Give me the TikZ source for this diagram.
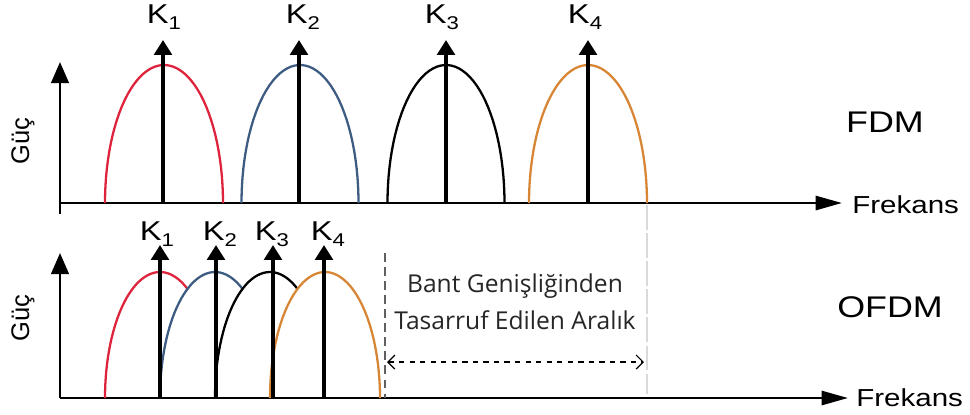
\documentclass[tikz,border=0pt]{standalone}
\usepackage{fontspec}
\setmainfont{Liberation Sans}[FakeStretch=1.2]
\newfontfamily\duzfont{Liberation Sans}
\newfontfamily\notfont{Open Sans}
\usetikzlibrary{arrows.meta, positioning}
\definecolor{kirmizi}{RGB}{222,36,60}
\definecolor{mavi}{RGB}{62,92,130}
\definecolor{turuncu}{RGB}{214,134,52}
\newcommand{\Kalt}[1]{K\raisebox{-0.4ex}{\fontsize{10.5}{10.5}\selectfont #1}}

\begin{document}
\begin{tikzpicture}[x=0.02cm, y=-0.02cm,
  eksenY/.style={line width=1.5pt, -{Triangle[width=10pt,length=12pt]}},
  eksenX/.style={line width=1.5pt, -{Triangle[width=8pt,length=15pt]}},
  tasiyici/.style={line width=2.3pt, -{Triangle[width=10pt,length=8.5pt]}},
  lob/.style={line width=1.3pt},
  etiket/.style={font=\fontsize{15.5}{17}\selectfont, inner sep=0pt},
  guc/.style={font=\duzfont\fontsize{14.5}{16}\selectfont, inner sep=0pt, rotate=90}]
  \useasboundingbox (0,0) rectangle (970,414);
  % Ust eksenler (FDM)
  \coordinate (ustYa) at (60,214);
  \coordinate (ustYu) at (60,62);
  \coordinate (ustXa) at (60,203);
  \coordinate (ustXu) at (842,203);
  \draw[eksenY] (ustYa) -- (ustYu);
  \draw[eksenX] (ustXa) -- (ustXu);
  \node[etiket, font=\fontsize{14}{16}\selectfont, anchor=west] (frek1) at (852,205) {Frekans};
  \node[guc] (guc1) at (23,141) {Güç};
  \node[etiket, font=\fontsize{17}{19}\selectfont] (fdm) at (885,122) {FDM};
  % FDM loblari
  \draw[lob, kirmizi] plot[domain=180:0, samples=50] ({164+59*cos(\x)}, {203-138*sin(\x)});
  \draw[lob, mavi] plot[domain=180:0, samples=50] ({300+58.5*cos(\x)}, {203-138*sin(\x)});
  \draw[lob, black] plot[domain=180:0, samples=50] ({446+58.5*cos(\x)}, {203-138*sin(\x)});
  \draw[lob, turuncu] plot[domain=180:0, samples=50] ({588+59*cos(\x)}, {203-138*sin(\x)});
  % FDM tasiyicilari
  \coordinate (f1a) at (163,203); \coordinate (f1u) at (163,40);
  \coordinate (f2a) at (299,203); \coordinate (f2u) at (299,40);
  \coordinate (f3a) at (446,203); \coordinate (f3u) at (446,40);
  \coordinate (f4a) at (588,203); \coordinate (f4u) at (588,40);
  \draw[tasiyici] (f1a) -- (f1u);
  \draw[tasiyici] (f2a) -- (f2u);
  \draw[tasiyici] (f3a) -- (f3u);
  \draw[tasiyici] (f4a) -- (f4u);
  \node[etiket] (fk1) at (164,17) {\Kalt{1}};
  \node[etiket] (fk2) at (303,17) {\Kalt{2}};
  \node[etiket] (fk3) at (442,17) {\Kalt{3}};
  \node[etiket] (fk4) at (585,17) {\Kalt{4}};
  % Alt eksenler (OFDM)
  \coordinate (altYa) at (60,398);
  \coordinate (altYu) at (60,253);
  \coordinate (altXu) at (848,398);
  \draw[eksenY] (altYa) -- (altYu);
  \draw[eksenX] (altYa) -- (altXu);
  \node[etiket, font=\fontsize{14}{16}\selectfont, anchor=west] (frek2) at (856,398) {Frekans};
  \node[guc] (guc2) at (23,318) {Güç};
  \node[etiket, font=\fontsize{17}{19}\selectfont] (ofdm) at (890,307) {OFDM};
  % OFDM loblari (ust uste binen)
  \draw[lob, kirmizi] plot[domain=180:60, samples=40] ({160+55*cos(\x)}, {398-126*sin(\x)});
  \draw[lob, mavi] plot[domain=180:60, samples=40] ({215+55*cos(\x)}, {398-126*sin(\x)});
  \draw[lob, black] plot[domain=180:60, samples=40] ({270+55*cos(\x)}, {398-126*sin(\x)});
  \draw[lob, turuncu] plot[domain=180:0, samples=50] ({325+55*cos(\x)}, {398-126*sin(\x)});
  % OFDM tasiyicilari
  \coordinate (o1a) at (160,398); \coordinate (o1u) at (160,245);
  \coordinate (o2a) at (216,398); \coordinate (o2u) at (216,245);
  \coordinate (o3a) at (273,398); \coordinate (o3u) at (273,245);
  \coordinate (o4a) at (324,398); \coordinate (o4u) at (324,245);
  \draw[tasiyici] (o1a) -- (o1u);
  \draw[tasiyici] (o2a) -- (o2u);
  \draw[tasiyici] (o3a) -- (o3u);
  \draw[tasiyici] (o4a) -- (o4u);
  \node[etiket] (ok1) at (157,234) {\Kalt{1}};
  \node[etiket] (ok2) at (220,234) {\Kalt{2}};
  \node[etiket] (ok3) at (272,234) {\Kalt{3}};
  \node[etiket] (ok4) at (328,234) {\Kalt{4}};
  % Kazanilan aralik
  \coordinate (solK1) at (385,253);
  \coordinate (solK2) at (385,398);
  \coordinate (sagK1) at (647,205);
  \coordinate (sagK2) at (647,394);
  \draw[gray!75!black, line width=0.8pt, dash pattern=on 5pt off 3pt] (solK1) -- (solK2);
  \draw[gray!30, line width=1.6pt, dash pattern=on 14pt off 2pt] (sagK1) -- (sagK2);
  \coordinate (arSol) at (387,362);
  \coordinate (arSag) at (644,362);
  \draw[dashed, line width=0.7pt, {Straight Barb[length=4pt,width=8pt]}-{Straight Barb[length=4pt,width=8pt]}] (arSol) -- (arSag);
  \node[align=center, font=\notfont\fontsize{14}{21}\selectfont, text=black!85] (aralik) at (515,302) {Bant Genişliğinden\\Tasarruf Edilen Aralık};
\end{tikzpicture}
\end{document}
